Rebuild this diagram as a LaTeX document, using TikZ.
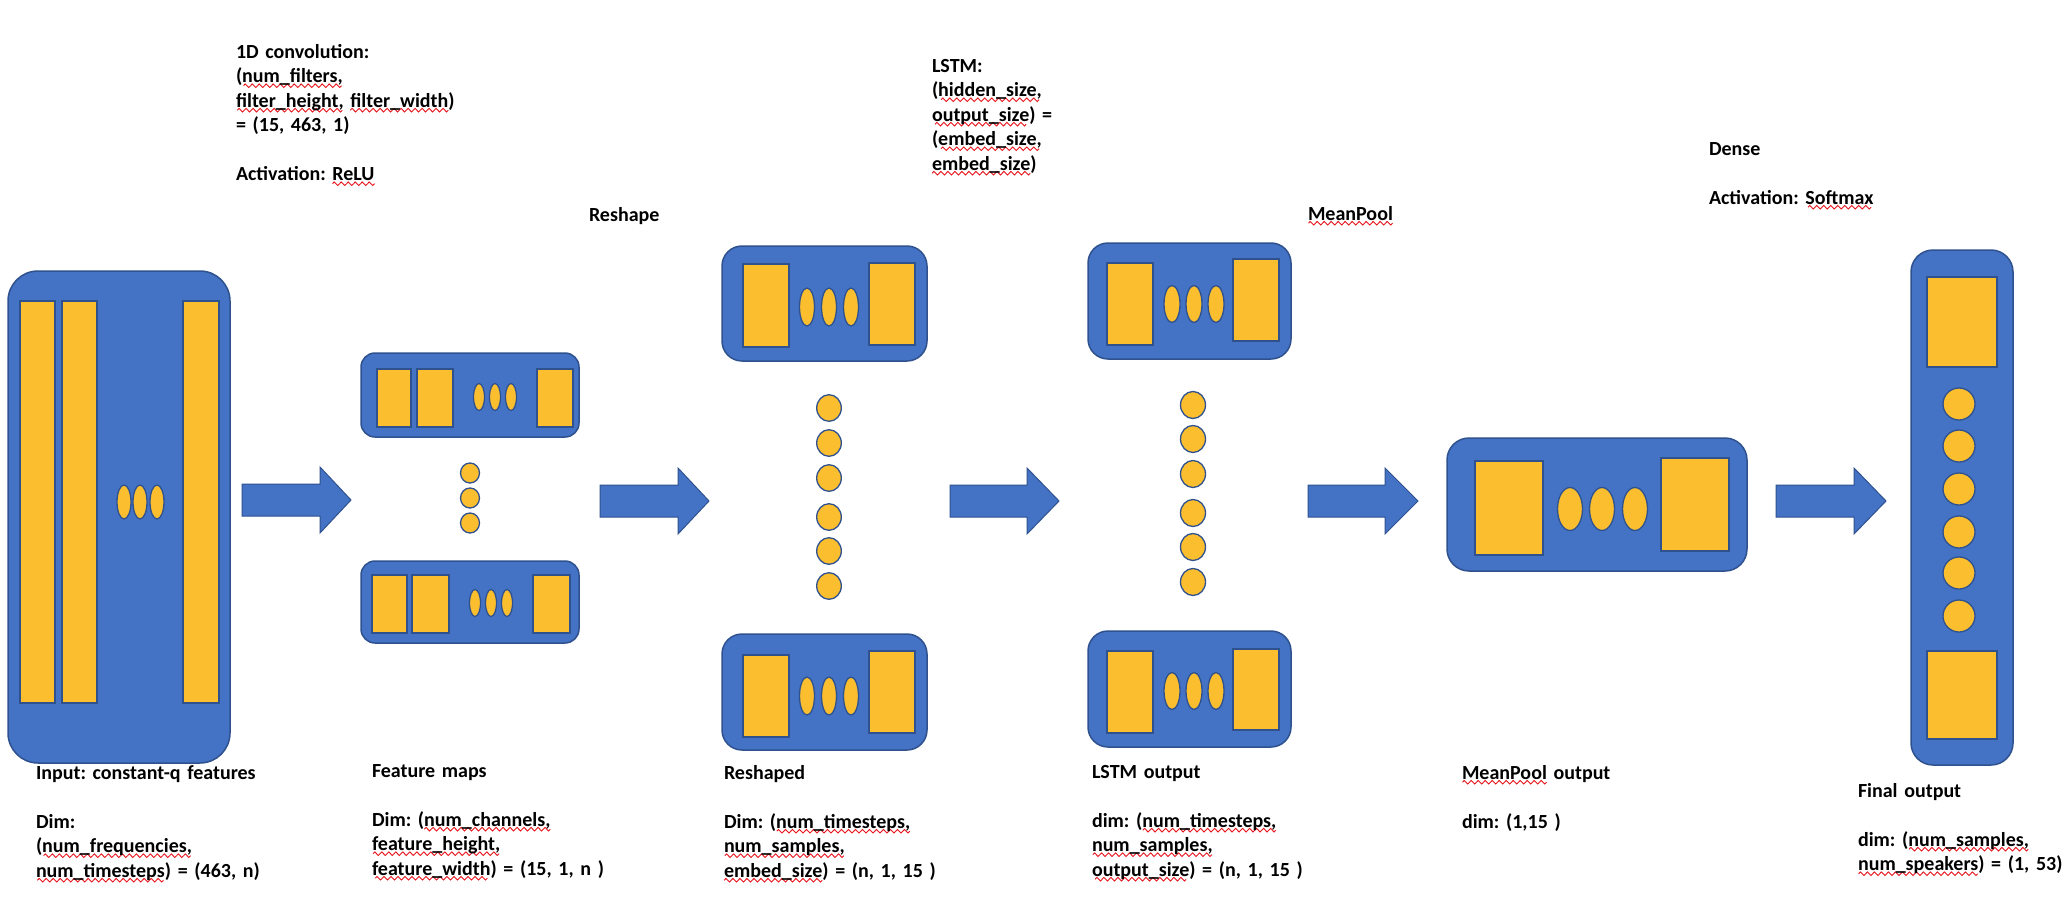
\documentclass[tikz,border=0pt]{standalone}
\usepackage{fontspec}
\setmainfont{Carlito}
\usetikzlibrary{shapes.geometric}
\definecolor{boxblue}{HTML}{4472C4}
\definecolor{edgeblue}{HTML}{2F528F}
\definecolor{goldfill}{HTML}{FBBE2E}
\definecolor{squigred}{HTML}{E8141C}
\newsavebox\wavebox
\newsavebox\sqtmp
\newcommand\sq[1]{\leavevmode\sbox\sqtmp{#1}\rlap{\lower5pt\hbox to\wd\sqtmp{\cleaders\copy\wavebox\hfill}}\usebox\sqtmp}
\newcommand\lblfont{\fontsize{20}{24.5}\selectfont\bfseries\frenchspacing}
\tikzset{
  bbox/.style={draw=edgeblue, fill=boxblue, line width=1.5pt, inner sep=0pt, outer sep=0pt, rectangle},
  ybox/.style={draw=edgeblue, fill=goldfill, line width=1.5pt, inner sep=0pt, outer sep=0pt, rectangle},
  yell/.style={draw=edgeblue, fill=goldfill, line width=1.3pt, ellipse, inner sep=0pt, outer sep=0pt},
  barrowst/.style={draw=edgeblue, fill=boxblue, line width=1pt, line join=miter},
  lbl/.style={anchor=base west, inner sep=0pt, outer sep=0pt, align=left, text width=500pt, font=\lblfont},
}
% name, style, x1, y1, x2, y2
\newcommand\rb[6]{\node[#2, minimum width={#5-#3}, minimum height={#6-#4}] (#1) at ({(#3+#5)/2},{(#4+#6)/2}) {};}
% name, x, y, rx, ry
\newcommand\el[5]{\node[yell, minimum width={2*#4}, minimum height={2*#5}] (#1) at (#2,#3) {};}
% x1, head base, tip, y centre
\newcommand\blockarrow[4]{\draw[barrowst] (#1,#4-16) -- (#2,#4-16) -- (#2,#4-33) -- (#3,#4) -- (#2,#4+33) -- (#2,#4+16) -- (#1,#4+16) -- cycle;}
\begin{document}
\sbox\wavebox{\begin{pgfpicture}%
\pgfpathrectangle{\pgfpoint{0pt}{-1.8pt}}{\pgfpoint{7pt}{3.6pt}}\pgfusepath{use as bounding box}%
\pgfsetlinewidth{0.9pt}\pgfsetstrokecolor{squigred}%
\pgfpathmoveto{\pgfpoint{0pt}{0pt}}%
\pgfpathsine{\pgfpoint{1.75pt}{1.8pt}}%
\pgfpathcosine{\pgfpoint{1.75pt}{-1.8pt}}%
\pgfpathsine{\pgfpoint{1.75pt}{-1.8pt}}%
\pgfpathcosine{\pgfpoint{1.75pt}{1.8pt}}%
\pgfusepath{stroke}%
\end{pgfpicture}}%
\begin{tikzpicture}[x=1pt,y=-1pt]
\useasboundingbox (0,0) rectangle (2070,918);
\fill[white] (0,0) rectangle (2070,918);

% ---------- input ----------
\rb{inbox}{bbox,rounded corners=30pt}{8}{271}{230}{763}
\rb{inbar1}{ybox}{20}{301}{55}{703}
\rb{inbar2}{ybox}{62}{301}{97}{703}
\rb{inbar3}{ybox}{183}{301}{219}{703}
\el{ine1}{124}{502}{7}{17}
\el{ine2}{140}{502}{7}{17}
\el{ine3}{157}{502}{7}{17}

\blockarrow{242}{320}{351}{500}

% ---------- feature maps ----------
\rb{ftop}{bbox,rounded corners=14pt}{361}{353}{579}{437}
\rb{ftr1}{ybox}{377}{369}{411}{427}
\rb{ftr2}{ybox}{417}{369}{453}{427}
\rb{ftr3}{ybox}{537}{369}{573}{427}
\el{fte1}{479}{397}{5.5}{13.5}
\el{fte2}{495}{397}{5.5}{13.5}
\el{fte3}{511}{397}{5.5}{13.5}
\el{fd1}{470}{473}{9.5}{10}
\el{fd2}{470}{498}{9.5}{10}
\el{fd3}{470}{523}{9.5}{10}
\rb{fbot}{bbox,rounded corners=14pt}{361}{561}{579}{643}
\rb{fbr1}{ybox}{372}{575}{407}{633}
\rb{fbr2}{ybox}{412}{575}{449}{633}
\rb{fbr3}{ybox}{533}{575}{570}{633}
\el{fbe1}{475}{603}{5.5}{13.5}
\el{fbe2}{491}{603}{5.5}{13.5}
\el{fbe3}{507}{603}{5.5}{13.5}

\blockarrow{600}{678}{709}{501}

% ---------- reshaped ----------
\rb{rtop}{bbox,rounded corners=20pt}{722}{246}{927}{361}
\rb{rtr1}{ybox}{743}{264}{789}{347}
\rb{rtr2}{ybox}{869}{263}{915}{345}
\el{rte1}{807}{307}{7.5}{19}
\el{rte2}{829}{307}{7.5}{19}
\el{rte3}{851}{307}{7.5}{19}
\foreach \yy [count=\i] in {408,443,478,517,551,586}{\el{rd\i}{829}{\yy}{12.3}{13.3}}
\rb{rbot}{bbox,rounded corners=20pt}{722}{634}{927}{750}
\rb{rbr1}{ybox}{743}{655}{789}{737}
\rb{rbr2}{ybox}{869}{651}{915}{733}
\el{rbe1}{807}{696}{7.5}{19}
\el{rbe2}{829}{696}{7.5}{19}
\el{rbe3}{851}{696}{7.5}{19}

\blockarrow{950}{1027}{1059}{501}

% ---------- LSTM output ----------
\rb{ltop}{bbox,rounded corners=20pt}{1088}{243}{1291}{359}
\rb{ltr1}{ybox}{1107}{263}{1153}{345}
\rb{ltr2}{ybox}{1233}{259}{1279}{341}
\el{lte1}{1172}{304}{8}{18.5}
\el{lte2}{1194}{304}{8}{18.5}
\el{lte3}{1216}{304}{8}{18.5}
\foreach \yy [count=\i] in {405,439,474,513,547,582}{\el{ld\i}{1193}{\yy}{12.5}{13.5}}
\rb{lbot}{bbox,rounded corners=20pt}{1088}{631}{1291}{747}
\rb{lbr1}{ybox}{1107}{651}{1153}{733}
\rb{lbr2}{ybox}{1233}{649}{1279}{730}
\el{lbe1}{1172}{691}{8}{18.5}
\el{lbe2}{1194}{691}{8}{18.5}
\el{lbe3}{1216}{691}{8}{18.5}

\blockarrow{1308}{1385}{1418}{501}

% ---------- MeanPool output ----------
\rb{mbox}{bbox,rounded corners=22pt}{1447}{438}{1747}{571}
\rb{mr1}{ybox}{1475}{461}{1543}{555}
\rb{mr2}{ybox}{1661}{458}{1729}{551}
\el{me1}{1570}{509}{12.5}{21.5}
\el{me2}{1602}{509}{12.5}{21.5}
\el{me3}{1635}{509}{12.5}{21.5}

\blockarrow{1776}{1854}{1886}{501}

% ---------- final output ----------
\rb{fin}{bbox,rounded corners=22pt}{1911}{250}{2013}{765}
\rb{fint}{ybox}{1927}{277}{1997}{367}
\rb{finb}{ybox}{1927}{651}{1997}{739}
\foreach \yy [count=\i] in {404,446,489,532,573,616}{\el{fc\i}{1959}{\yy}{16}{16}}

% ---------- labels ----------
\node[lbl] (tconv) at (236,58) {1D convolution:\\(\sq{num\_filters,}\\\sq{filter\_height,} \sq{filter\_width})\\= (15, 463, 1)\\[24.5pt]Activation: \sq{ReLU}};
\node[lbl] (treshape) at (589,221) {Reshape};
\node[lbl] (tlstm) at (932,72) {LSTM:\\(\sq{hidden\_size,}\\\sq{output\_size}) =\\(\sq{embed\_size,}\\\sq{embed\_size})};
\node[lbl] (tmean) at (1308,220) {\sq{MeanPool}};
\node[lbl] (tdense) at (1709,155) {Dense\\[24.5pt]Activation: \sq{Softmax}};
\node[lbl] (tin) at (36,779) {Input: constant-q features\\[24.5pt]Dim:\\(\sq{num\_frequencies,}\\\sq{num\_timesteps}) = (463, n)};
\node[lbl] (tfm) at (372,777) {Feature maps\\[24.5pt]Dim: (\sq{num\_channels,}\\\sq{feature\_height,}\\\sq{feature\_width}) = (15, 1, n )};
\node[lbl] (trs) at (724,779) {Reshaped\\[24.5pt]Dim: (\sq{num\_timesteps,}\\\sq{num\_samples,}\\\sq{embed\_size}) = (n, 1, 15 )};
\node[lbl] (tlo) at (1092,778) {LSTM output\\[24.5pt]dim: (\sq{num\_timesteps,}\\\sq{num\_samples,}\\\sq{output\_size}) = (n, 1, 15 )};
\node[lbl] (tmo) at (1462,779) {\sq{MeanPool} output\\[24.5pt]dim: (1,15 )};
\node[lbl] (tfo) at (1858,797) {Final output\\[24.5pt]dim: (\sq{num\_samples,}\\\sq{num\_speakers}) = (1, 53)};
\end{tikzpicture}
\end{document}
